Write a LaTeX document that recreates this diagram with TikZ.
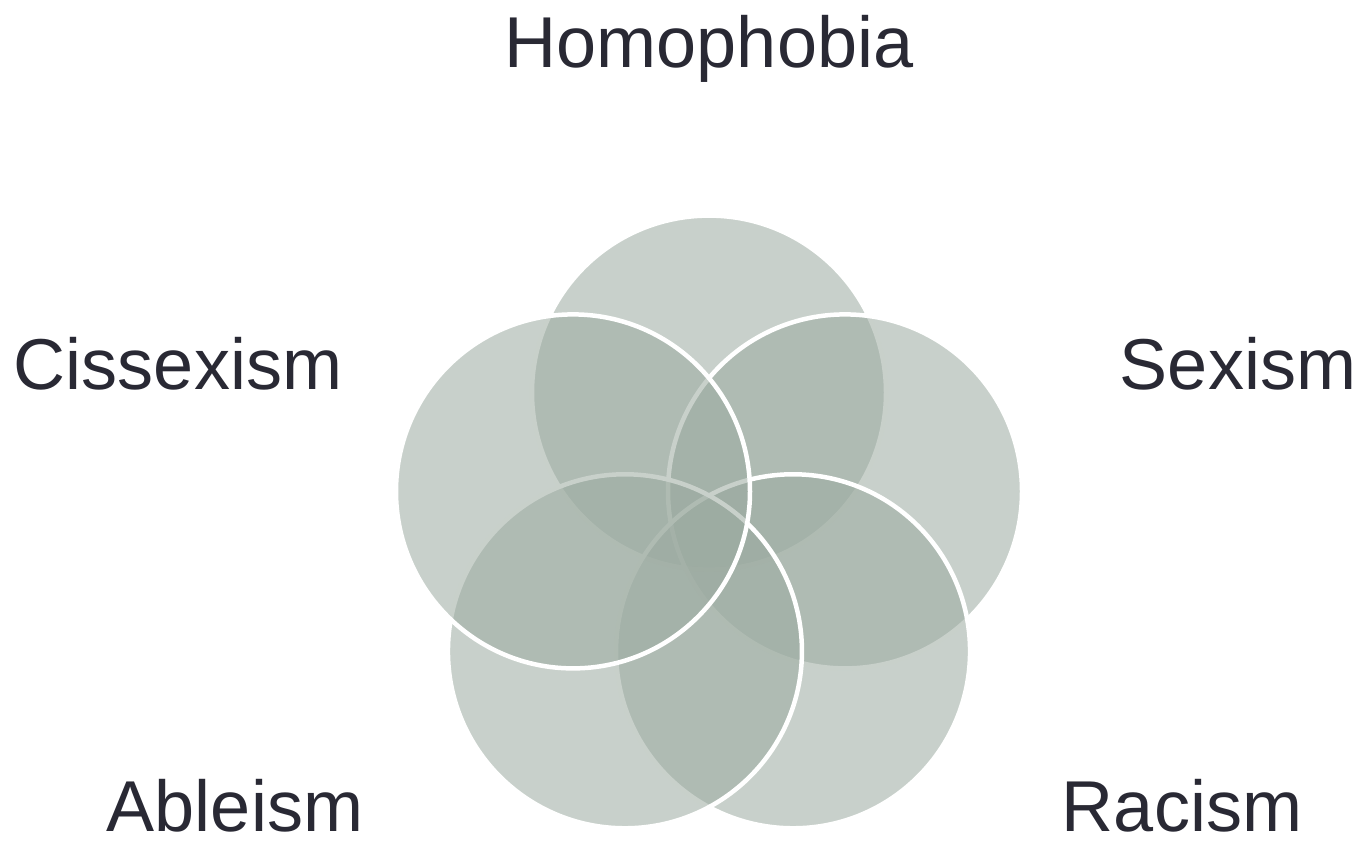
\documentclass[tikz,border=0pt]{standalone}
\usepackage{fontspec}
\setmainfont{Liberation Sans}
\usepackage{tikz}
\usetikzlibrary{positioning}
\usetikzlibrary{calc}
\definecolor{venngreen}{RGB}{155,170,160}
\definecolor{labelgray}{RGB}{41,41,52}
\tikzstyle{venn} = [circle, minimum size=7.08cm, inner sep=0pt, fill=venngreen, fill opacity=0.55, draw=white, draw opacity=1, line width=0.09cm]
\tikzstyle{vennlabel} = [anchor=base, text=labelgray, inner sep=0pt, text depth=0pt, font=\fontsize{41}{48}\selectfont]

\begin{document}
\begin{tikzpicture}
			\useasboundingbox (0,0) rectangle (27.22,16.92);
			\coordinate (ctr) at (14.18,6.208);
			%五个圆,按顺序叠加
			\node (homo) [venn] at ($(ctr)+(90:2.86)$) {};
			\node (sex) [venn] at ($(ctr)+(18:2.86)$) {};
			\node (race) [venn] at ($(ctr)+(-54:2.86)$) {};
			\node (able) [venn] at ($(ctr)+(-126:2.86)$) {};
			\node (cis) [venn] at ($(ctr)+(162:2.86)$) {};
			
			%标签
			\node (lhomo) [vennlabel] at (14.18,15.56) {Homophobia};
			\node (lcis) [vennlabel] at (3.56,9.12) {Cissexism};
			\node (lsex) [vennlabel] at (24.76,9.12) {Sexism};
			\node (lable) [vennlabel] at (4.70,0.28) {Ableism};
			\node (lrace) [vennlabel] at (23.64,0.28) {Racism};
		\end{tikzpicture}
\end{document}
